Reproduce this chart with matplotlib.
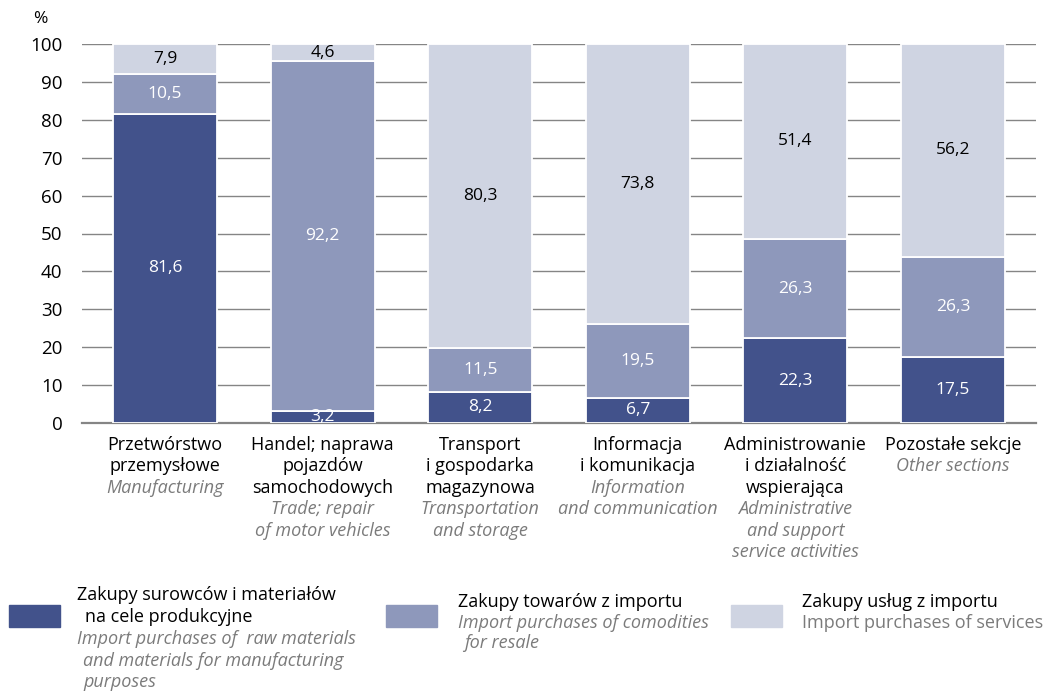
import matplotlib
matplotlib.use("Agg")
import matplotlib.pyplot as plt
from matplotlib import transforms
from matplotlib.patches import Rectangle
import numpy as np

plt.rcParams['font.family'] = ['Open Sans', 'DejaVu Sans']

# Data
categories_pl = [
    ["Przetwórstwo", "przemysłowe"],
    ["Handel; naprawa", "pojazdów", "samochodowych"],
    ["Transport", "i gospodarka", "magazynowa"],
    ["Informacja", "i komunikacja"],
    ["Administrowanie", "i działalność", "wspierająca"],
    ["Pozostałe sekcje"],
]
categories_en = [
    ["Manufacturing"],
    ["Trade; repair", "of motor vehicles"],
    ["Transportation", "and storage"],
    ["Information", "and communication"],
    ["Administrative", "and support", "service activities"],
    ["Other sections"],
]
raw_materials = [81.6, 3.2, 8.2, 6.7, 22.3, 17.5]
goods_resale = [10.5, 92.2, 11.5, 19.5, 26.3, 26.3]
services = [7.9, 4.6, 80.3, 73.8, 51.4, 56.2]
yticks = [0, 10, 20, 30, 40, 50, 60, 70, 80, 90, 100]

c_dark = "#42528b"
c_mid = "#8e98bb"
c_light = "#cfd4e2"
c_gray_text = "#7b7b7b"

W, H = 1045, 691
fig = plt.figure(figsize=(W / 100, H / 100), dpi=100)
ax = fig.add_axes([82 / W, (H - 423) / H, (1036 - 82) / W, 379 / H])

x = np.arange(len(raw_materials))
width = 0.66
series = [raw_materials, goods_resale, services]
colors = [c_dark, c_mid, c_light]
text_colors = ["white", "white", "black"]
bottom = np.zeros(len(x))
for vals, col, tcol in zip(series, colors, text_colors):
    vals = np.array(vals)
    ax.bar(x, vals, width, bottom=bottom, color=col, edgecolor="white",
           linewidth=1.3, zorder=3)
    for xi, b, v in zip(x, bottom, vals):
        ax.text(xi, b + v / 2, f"{v:.1f}".replace(".", ","), ha="center",
                va="center", color=tcol, fontsize=12.5, zorder=4)
    bottom += vals

ax.set_xlim(-0.527, len(x) - 1 + 0.527)
ax.set_ylim(0, 100)
ax.set_yticks(yticks)
ax.set_yticklabels([str(t) for t in yticks], fontsize=13.5)
ax.tick_params(axis="y", length=0, pad=14)
ax.set_xticks([])
ax.grid(axis="y", color="#858585", linewidth=1.0, zorder=1)
for s in ["top", "right", "left"]:
    ax.spines[s].set_visible(False)
ax.spines["bottom"].set_color("#858585")
ax.spines["bottom"].set_linewidth(1.6)
ax.spines["bottom"].set_zorder(2)

fig.text(40 / W, 1 - 19 / H, "%", ha="center", va="center", fontsize=12.5)

# Category labels under the bars
trans = transforms.blended_transform_factory(ax.transData, fig.transFigure)
line_h = 21.4
fs = 13
for xi, pl, en in zip(x, categories_pl, categories_en):
    y = 445
    for line in pl:
        ax.text(xi, 1 - y / H, line, transform=trans, ha="center", va="center",
                fontsize=fs, color="black", clip_on=False)
        y += line_h
    for line in en:
        ax.text(xi, 1 - y / H, line, transform=trans, ha="center", va="center",
                fontsize=fs, color=c_gray_text, style="italic", clip_on=False)
        y += line_h

# Legend
def legend_patch(x0, x1, color):
    fig.patches.append(Rectangle((x0 / W, 1 - 627 / H), (x1 - x0) / W, 22 / H,
                                 transform=fig.transFigure, color=color))

def ftext(xp, yp, s, **kw):
    fig.text(xp / W, 1 - yp / H, s, ha="left", va="center", fontsize=fs, **kw)

legend_patch(9, 60, c_dark)
ftext(77, 595, "Zakupy surowców i materiałów")
ftext(85, 617, "na cele produkcyjne")
ftext(77, 639, "Import purchases of  raw materials", color=c_gray_text, style="italic")
ftext(83, 661, "and materials for manufacturing", color=c_gray_text, style="italic")
ftext(83, 682, "purposes", color=c_gray_text, style="italic")

legend_patch(386, 437, c_mid)
ftext(458, 602, "Zakupy towarów z importu")
ftext(458, 623, "Import purchases of comodities", color=c_gray_text, style="italic")
ftext(464, 643, "for resale", color=c_gray_text, style="italic")

legend_patch(731, 782, c_light)
ftext(802, 602, "Zakupy usług z importu")
ftext(802, 623, "Import purchases of services", color=c_gray_text)

fig.savefig("out.png", dpi=100)
